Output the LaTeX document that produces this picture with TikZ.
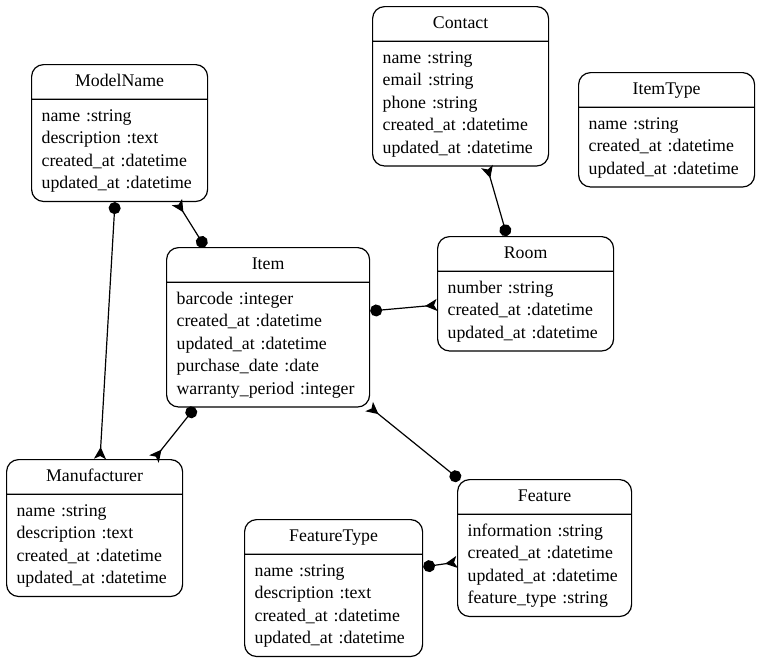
\documentclass[tikz,border=0pt]{standalone}
\usepackage{fontspec}
\setmainfont{Liberation Serif}
\usetikzlibrary{shapes.multipart,arrows.meta,calc}

\newcommand{\enttitle}[1]{\hbox to \hsize{\hfil\strut #1\hfil}}

\begin{document}
\begin{tikzpicture}[x=1pt,y=-1pt,
  entity/.style={rectangle split,rectangle split parts=2,draw,line width=1.2pt,
    rounded corners=12pt,anchor=north west,inner xsep=10pt,inner ysep=5.5pt,
    text width=#1,align=left,font=\fontsize{17.8}{22.5}\selectfont},
  entity/.default=156pt,
  rel/.style={draw,line width=1.2pt,
    {Circle[length=12pt]}-{Stealth[reversed,length=12pt,width=12pt,inset=3pt]}}]

\useasboundingbox (0,0) rectangle (761,659);

\node[entity] (modelname) at (31,64) {\enttitle{ModelName}
  \nodepart{two}\strut name :string\\\strut description :text\\
  \strut created\_at :datetime\\\strut updated\_at :datetime};
\node[entity] (contact) at (372,6) {\enttitle{Contact}
  \nodepart{two}\strut name :string\\\strut email :string\\\strut phone :string\\
  \strut created\_at :datetime\\\strut updated\_at :datetime};
\node[entity] (itemtype) at (578,72) {\enttitle{ItemType}
  \nodepart{two}\strut name :string\\
  \strut created\_at :datetime\\\strut updated\_at :datetime};
\node[entity=183pt] (item) at (166,247) {\enttitle{Item}
  \nodepart{two}\strut barcode :integer\\
  \strut created\_at :datetime\\\strut updated\_at :datetime\\
  \strut purchase\_date :date\\\strut warranty\_period :integer};
\node[entity] (room) at (437,236) {\enttitle{Room}
  \nodepart{two}\strut number :string\\
  \strut created\_at :datetime\\\strut updated\_at :datetime};
\node[entity] (manufacturer) at (6,459) {\enttitle{Manufacturer}
  \nodepart{two}\strut name :string\\\strut description :text\\
  \strut created\_at :datetime\\\strut updated\_at :datetime};
\node[entity=154pt] (feature) at (457,479) {\enttitle{Feature}
  \nodepart{two}\strut information :string\\
  \strut created\_at :datetime\\\strut updated\_at :datetime\\
  \strut feature\_type :string};
\node[entity=158pt] (featuretype) at (244,519) {\enttitle{FeatureType}
  \nodepart{two}\strut name :string\\\strut description :text\\
  \strut created\_at :datetime\\\strut updated\_at :datetime};

\path
  ($(item.north west)+(39,0)$) edge[rel] ($(modelname.south west)+(146,0)$)
  ($(modelname.south west)+(84,0)$) edge[rel] ($(manufacturer.north west)+(94,0)$)
  ($(room.north west)+(70,0)$) edge[rel] ($(contact.south west)+(115,0)$)
  ($(item.north east)+(0,64)$) edge[rel] ($(room.north west)+(0,69)$)
  ($(item.south west)+(29,0)$) edge[rel] ($(manufacturer.north west)+(148,0)$)
  ($(feature.north west)+(3,1)$) edge[rel] ($(item.south east)+(-1,-1)$)
  ($(featuretype.north east)+(0,48)$) edge[rel] ($(feature.north west)+(0,83)$);
\end{tikzpicture}
\end{document}
